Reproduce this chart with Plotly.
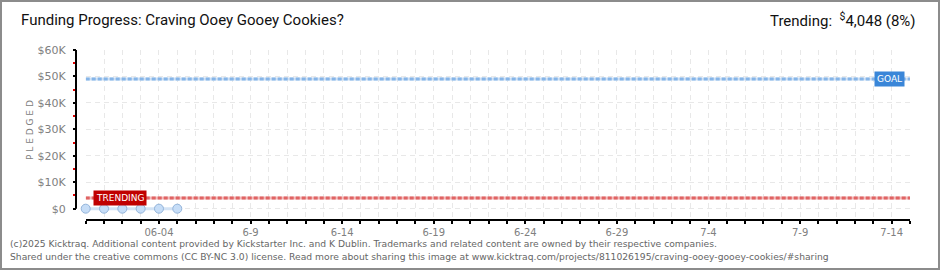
import plotly.graph_objects as go
import pandas as pd

# ---- data ----
dates = ["2025-05-31", "2025-06-01", "2025-06-02", "2025-06-03", "2025-06-04", "2025-06-05"]
pledged = [0, 0, 0, 0, 0, 0]
goal = 49000
trending = 4048
trend_pct = 8
x_start = "2025-05-31"
x_end = "2025-07-15"
x_label_dates = ["2025-06-04", "2025-06-09", "2025-06-14", "2025-06-19", "2025-06-24",
                 "2025-06-29", "2025-07-04", "2025-07-09", "2025-07-14"]
x_label_text = ["06-04", "6-9", "6-14", "6-19", "6-24", "6-29", "7-4", "7-9", "7-14"]
y_tick_vals = [0, 10000, 20000, 30000, 40000, 50000, 60000]
y_tick_text = ["$0", "$10K", "$20K", "$30K", "$40K", "$50K", "$60K"]
y_minor_vals = [5000, 15000, 25000, 35000, 45000, 55000]
title = "Funding Progress: Craving Ooey Gooey Cookies?"
footer1 = "(c)2025 Kicktraq. Additional content provided by Kickstarter Inc. and K Dublin. Trademarks and related content are owned by their respective companies."
footer2 = "Shared under the creative commons (CC BY-NC 3.0) license. Read more about sharing this image at www.kicktraq.com/projects/811026195/craving-ooey-gooey-cookies/#sharing"

# ---- geometry ----
W, H = 940, 270
ML, MR, MT, MB = 76, 30, 50, 51
PW = W - ML - MR
PH = H - MT - MB
x_dom0 = 9.7 / PW

all_days = pd.date_range(x_start, x_end, freq="D")
label_map = dict(zip(pd.to_datetime(x_label_dates), x_label_text))
tickvals = list(all_days)
ticktext = [label_map.get(d, " ") for d in all_days]

fig = go.Figure()

# goal line (base + dashes)
fig.add_trace(go.Scatter(x=[x_start, x_end], y=[goal, goal], mode="lines",
                         line=dict(color="#cfe1f5", width=3), hoverinfo="skip", showlegend=False))
fig.add_trace(go.Scatter(x=[x_start, x_end], y=[goal, goal], mode="lines",
                         line=dict(color="#86b5e8", width=3, dash="4px,2px"), hoverinfo="skip", showlegend=False))
# trending line
fig.add_trace(go.Scatter(x=[x_start, x_end], y=[trending, trending], mode="lines",
                         line=dict(color="#f2bcbc", width=3), hoverinfo="skip", showlegend=False))
fig.add_trace(go.Scatter(x=[x_start, x_end], y=[trending, trending], mode="lines",
                         line=dict(color="#e06464", width=3, dash="4px,2px"), hoverinfo="skip", showlegend=False))
# pledged data
fig.add_trace(go.Scatter(x=dates, y=pledged, mode="lines+markers", cliponaxis=False,
                         line=dict(color="#d3e3f5", width=3),
                         marker=dict(size=9, color="#c6ddf7", line=dict(color="#93b4da", width=1)),
                         showlegend=False))

# y axis line only from 0 to max
fig.add_shape(type="line", xref="paper", yref="y", x0=0, x1=0, y0=0, y1=60000,
              line=dict(color="#000", width=2), layer="above")

# border
fig.add_shape(type="rect", xref="paper", yref="paper",
              x0=-(ML - 1) / PW, x1=1 + (MR - 1) / PW, y0=-(MB - 1) / PH, y1=1 + (MT - 1) / PH,
              line=dict(color="#8c8c8c", width=2), layer="above")

fig.update_layout(
    width=W, height=H, margin=dict(l=ML, r=MR, t=MT, b=MB),
    paper_bgcolor="white", plot_bgcolor="white",
    xaxis=dict(type="date", range=[x_start, x_end], domain=[x_dom0, 1],
               tickmode="array", tickvals=tickvals, ticktext=ticktext,
               showgrid=True, gridcolor="#e8e8e8", griddash="5px,4px", gridwidth=1,
               showline=True, linecolor="#000", linewidth=2,
               ticks="outside", ticklen=3, tickwidth=2, tickcolor="#000",
               tickfont=dict(family="DejaVu Sans", size=10, color="#808080"),
               zeroline=False, fixedrange=True),
    yaxis=dict(range=[-3900, 60000], anchor="free", position=0,
               tickmode="array", tickvals=y_tick_vals, ticktext=y_tick_text,
               showgrid=True, gridcolor="#e8e8e8", griddash="5px,4px", gridwidth=1,
               showline=False, zeroline=False,
               ticks="outside", ticklen=3, tickwidth=2, tickcolor="#000",
               ticklabelstandoff=5,
               minor=dict(tickmode="array", tickvals=y_minor_vals, ticks="outside",
                          ticklen=3, tickwidth=2, tickcolor="#e00000", showgrid=False),
               tickfont=dict(family="DejaVu Sans", size=11, color="#808080"),
               fixedrange=True),
    annotations=[
        dict(text=title, xref="paper", yref="paper", x=-(ML - 19) / PW, y=1 + (MT - 20) / PH,
             xanchor="left", yanchor="middle", showarrow=False,
             font=dict(family="Roboto", size=15, color="#111")),
        dict(text="Trending:  <sup>$</sup>4,048 (" + str(trend_pct) + "%)",
             xref="paper", yref="paper", x=1 + (MR - 22) / PW, y=1 + (MT - 20) / PH,
             xanchor="right", yanchor="middle", showarrow=False,
             font=dict(family="Roboto", size=15, color="#111")),
        dict(text="P L E D G E D", xref="paper", yref="paper", x=-(ML - 30) / PW, y=(H - MB - 130) / PH,
             textangle=-90, xanchor="center", yanchor="middle", showarrow=False,
             font=dict(family="DejaVu Sans", size=9, color="#808080")),
        dict(text="GOAL", x=x_end, y=goal, xref="x", yref="y", xanchor="right", yanchor="middle",
             xshift=-5, showarrow=False, bgcolor="#3a86d8", borderpad=2,
             font=dict(family="DejaVu Sans", size=9, color="white")),
        dict(text="TRENDING", x=x_start, y=trending, xref="x", yref="y", xanchor="left", yanchor="middle",
             xshift=7, showarrow=False, bgcolor="#c00000", borderpad=2,
             font=dict(family="DejaVu Sans", size=9, color="white")),
        dict(text=footer1, xref="paper", yref="paper", x=-(ML - 8) / PW, y=-(243 - (H - MB)) / PH,
             xanchor="left", yanchor="middle", showarrow=False,
             font=dict(family="DejaVu Sans", size=9.2, color="#666")),
        dict(text=footer2, xref="paper", yref="paper", x=-(ML - 8) / PW, y=-(256 - (H - MB)) / PH,
             xanchor="left", yanchor="middle", showarrow=False,
             font=dict(family="DejaVu Sans", size=9.2, color="#666")),
    ],
)

fig.write_html("out.html")
